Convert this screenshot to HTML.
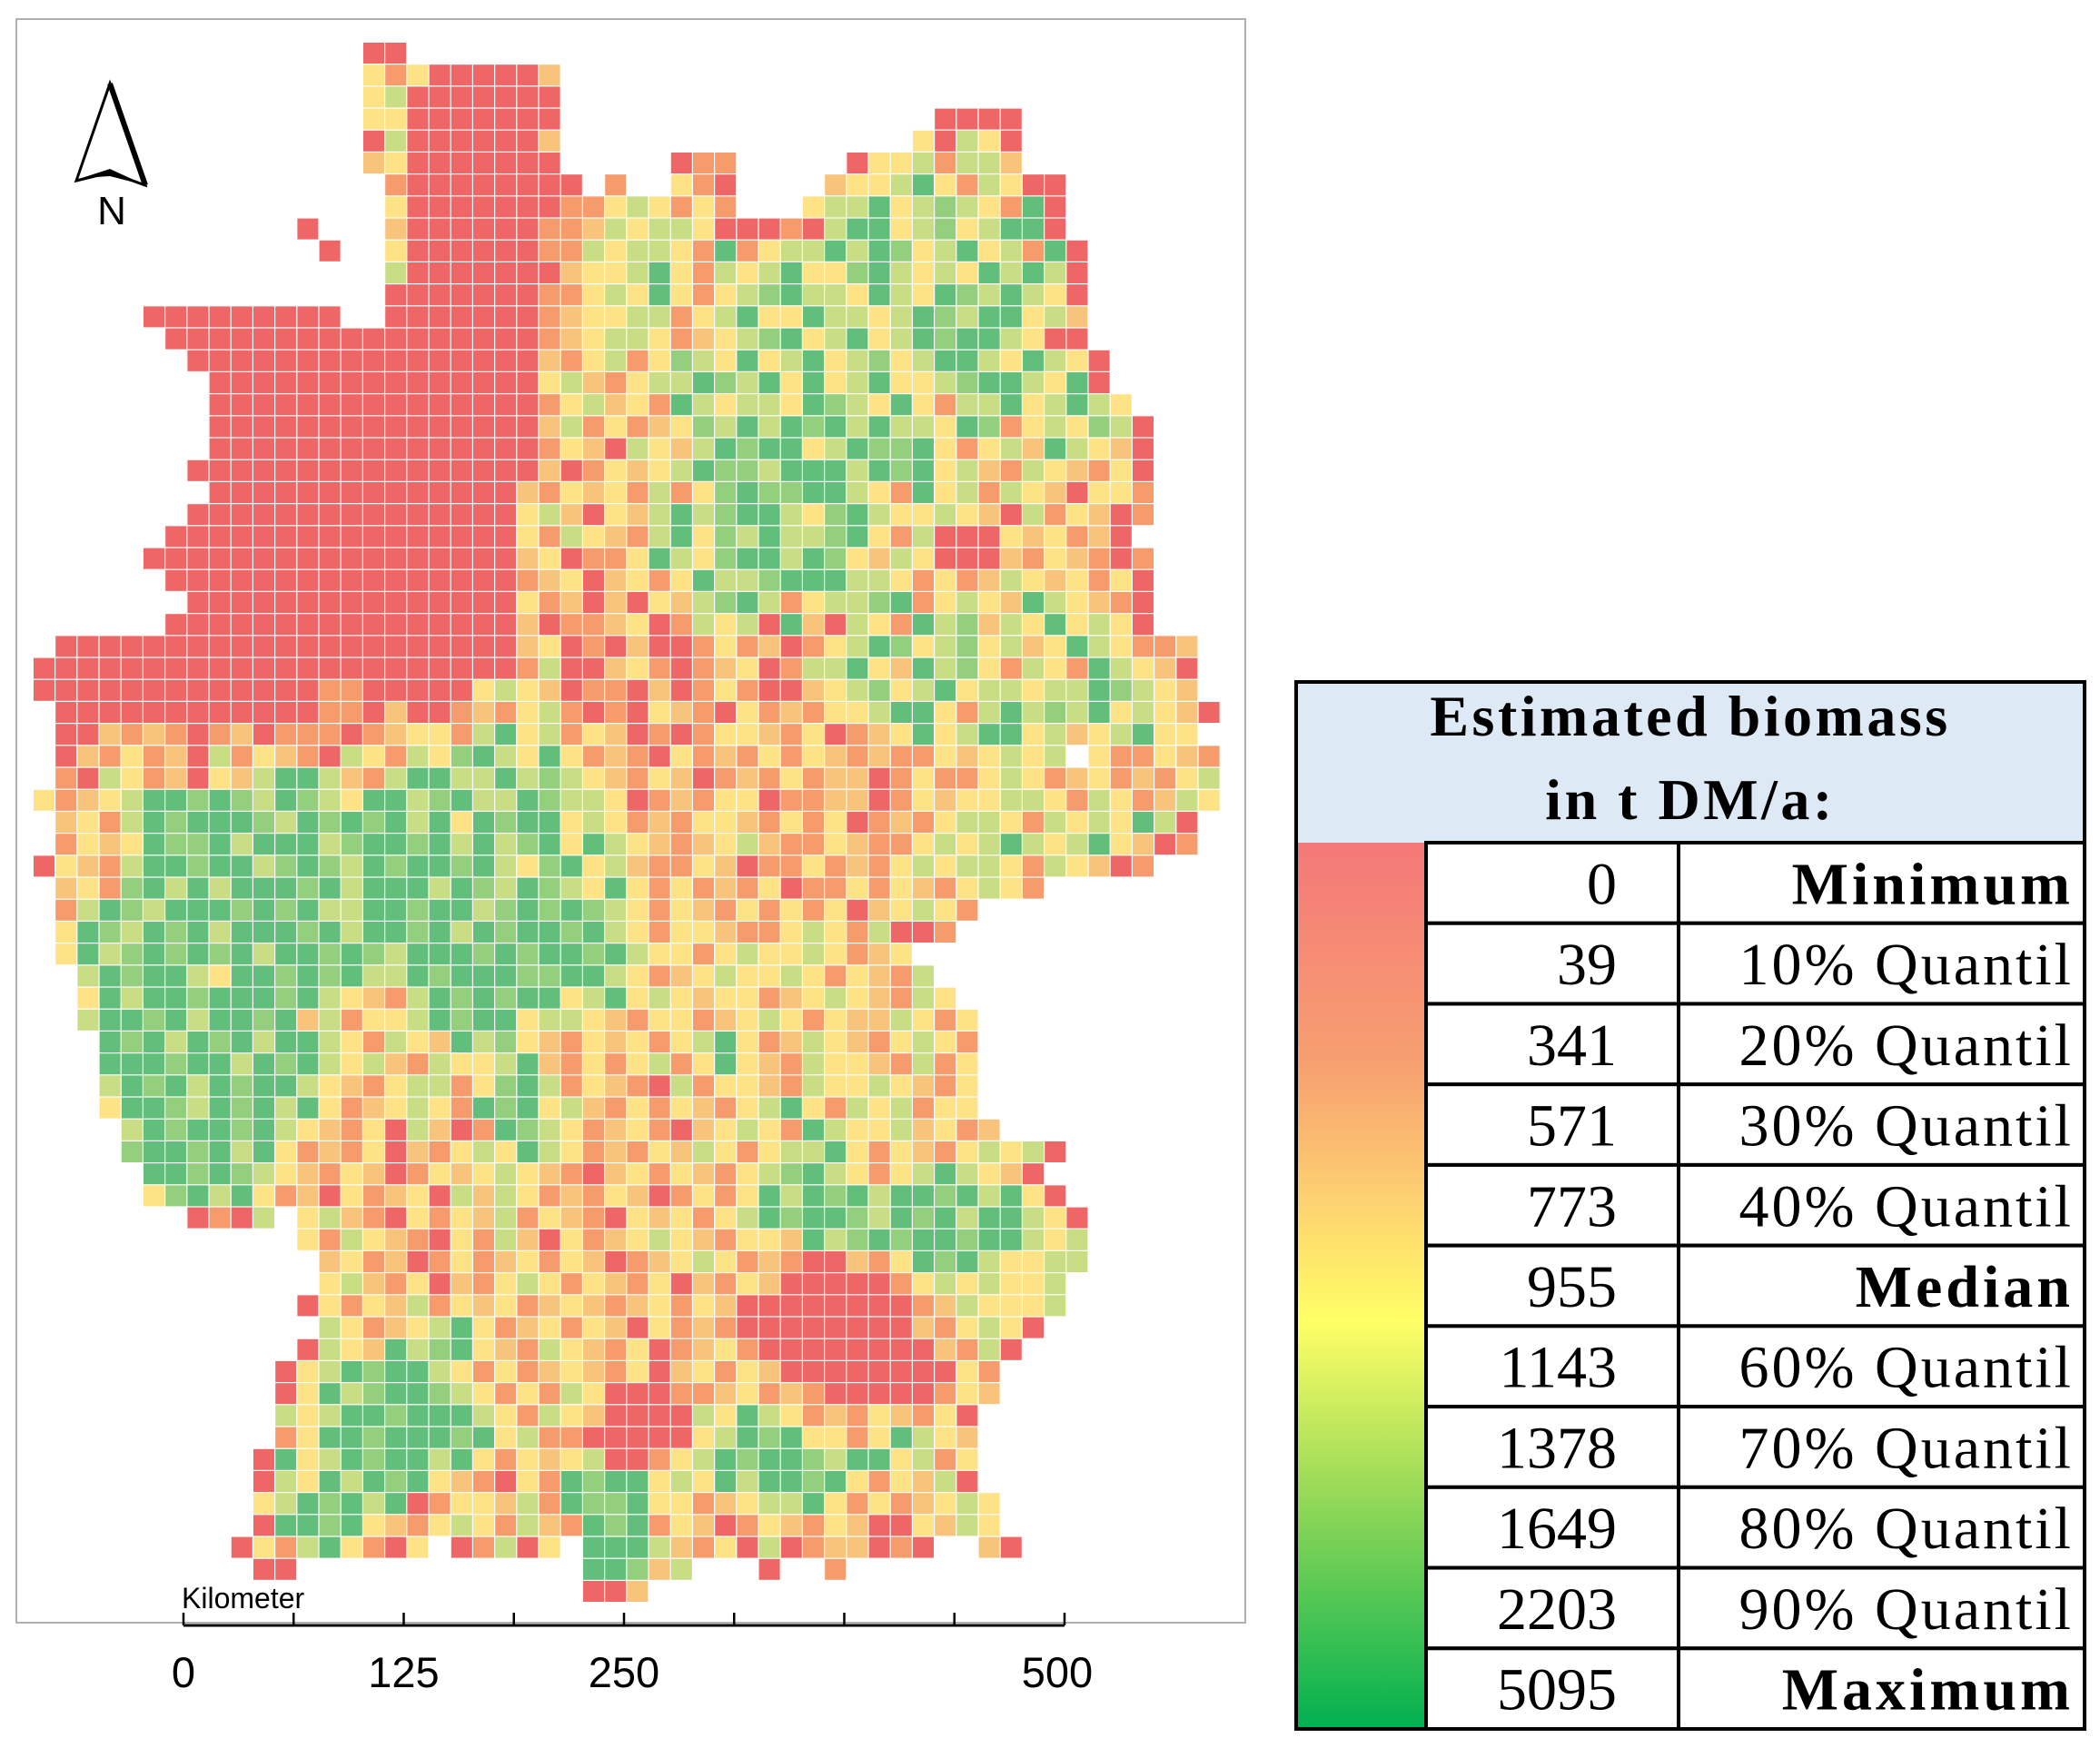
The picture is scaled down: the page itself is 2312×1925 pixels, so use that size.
<!DOCTYPE html>
<html><head><meta charset="utf-8"><style>
html,body{margin:0;padding:0;background:#fff;}
svg{display:block;}
</style></head><body>
<svg id="fig" width="2312" height="1925" viewBox="0 0 2312 1925" xmlns="http://www.w3.org/2000/svg">
<defs>
<linearGradient id="lg" x1="0" y1="0" x2="0" y2="1">
<stop offset="0" stop-color="#f47878"/><stop offset="0.25" stop-color="#f7a070"/><stop offset="0.4" stop-color="#fdd070"/><stop offset="0.54" stop-color="#ffff66"/><stop offset="0.72" stop-color="#9fdc58"/><stop offset="1" stop-color="#00b050"/>
</linearGradient>
</defs>
<rect x="18" y="21" width="1353" height="1766" fill="#fff" stroke="#b0b0b0" stroke-width="2"/>
<g id="cells"></g>
<g>
<polygon points="121,92 84,199 121,190 160,204" fill="#fff" stroke="#000" stroke-width="3"/>
<line x1="121" y1="92" x2="160" y2="204" stroke="#000" stroke-width="6"/>
<polygon points="90,196 121,186 160,204 121,194" fill="#000"/>
<text x="123" y="247" font-family="Liberation Sans, sans-serif" font-size="44" text-anchor="middle">N</text>
</g>
<g id="scalebar">
<text x="200" y="1771" font-family="Liberation Sans, sans-serif" font-size="32">Kilometer</text>
<line x1="202" y1="1790" x2="1172" y2="1790" stroke="#000" stroke-width="3"/>
</g>
<g font-family="Liberation Serif, serif">
<rect x="1427" y="751" width="868" height="177" fill="#dde9f5"/>
<text x="1861" y="810" font-size="64" font-weight="bold" text-anchor="middle" letter-spacing="3.5">Estimated biomass</text>
<text x="1861" y="902" font-size="64" font-weight="bold" text-anchor="middle" letter-spacing="3.5">in t DM/a:</text>
<rect x="1427" y="928" width="143" height="976" fill="url(#lg)"/>
<g id="legrows"></g>
<rect x="1427" y="751" width="868" height="1153" fill="none" stroke="#000" stroke-width="4"/>
</g>
</svg>
<script>
const COLORS = {r:'#ef6666',o:'#f59b6c',a:'#f8c47b',y:'#fde385',l:'#c8dd84',m:'#94cf7e',g:'#62be7b'};
const rowSegments = [
[[15,"rr"]],
[[15,"yoyrrrrra"]],
[[15,"ylrrrrrrr"]],
[[15,"yyrrrrrrr"],[41,"rrrr"]],
[[15,"rlrrrrrra"],[40,"yrlyr"]],
[[15,"ayrrrrrrr"],[29,"roo"],[37,"ryylolla"]],
[[16,"orrrrrrrr"],[26,"o"],[29,"yor"],[36,"ayylgyolyrr"]],
[[16,"yrrrrrrroo"],[26,"ylyoyo"],[35,"yllgylmlyogr"]],
[[12,"r"],[16,"arrrrrrooa"],[26,"lyllyrr"],[33,"rorlggylmylggr"]],
[[13,"r"],[16,"yrrrrrroo"],[25,"lyllyogoyllglgmylgylogr"]],
[[16,"lrrrrrrra"],[25,"yylgyolylgyymglylyglglr"]],
[[16,"rrrrrrroo"],[25,"ylygyoylmgllyglygmlgly"],[47,"r"]],
[[5,"rrrrrrrrr"],[16,"rrrrrrroay"],[26,"ylloylgyygllylgmlggyla"]],
[[6,"rrrrrrrrrrrrrrrrr"],[23,"oayllyoaylmgylgylgmgglyr"],[47,"r"]],
[[7,"rrrrrrrrrrrrrrrr"],[23,"aoyloymlygylgylmylgglygl"],[47,"yr"]],
[[8,"rrrrrrrrrrrrrrr"],[23,"ylaoyllgmlgygylgyylmggly"],[47,"gr"]],
[[8,"rrrrrrrrrrrrrrr"],[23,"oylayoglyllygmlygyollgyl"],[47,"gly"]],
[[8,"rrrrrrrrrrrrrrr"],[23,"aloyoaymlglgmglgllygmoyl"],[47,"ymlr"]],
[[8,"rrrrrrrrrrrrrrr"],[23,"oyarlyalgmggylgmmgyoylag"],[47,"lyar"]],
[[7,"rrrrrrrrrrrrrrrr"],[23,"aroyaylgmmlggglgmgylaoly"],[47,"aoyr"]],
[[8,"rrrrrrrrrrrrrr"],[22,"aoyayoloymgmmgglyogylolya"],[47,"ryyo"]],
[[7,"rrrrrrrrrrrrrrr"],[22,"ylaryalglmgglymglyylyarl"],[46,"oyaro"]],
[[6,"rrrrrrrrrrrrrrrr"],[22,"yolyaolgymlgllmgyolrrrya"],[46,"yoar"]],
[[5,"rrrrrrrrrrrrrrrrr"],[22,"ayrooyglymgglgmyalyrrrao"],[46,"yaoro"]],
[[6,"rrrrrrrrrrrrrrrr"],[22,"oayrayoygllmgggllyoyoaly"],[46,"ayoyr"]],
[[7,"rrrrrrrrrrrrrrr"],[22,"yoararyalmgloyllmgoylyag"],[46,"lyaor"]],
[[6,"rrrrrrrrrrrrrrrr"],[22,"arooayrolylrgarlyoglmaly"],[46,"gylyr"]],
[[1,"rrrrrrrrrrrrrrrrrrrrr"],[22,"ayrorarroyoaroylgmylmyl"],[45,"ayglyooa"]],
[[0,"rrrrrrrrrrrrrrrrrrrrrr"],[22,"olrrayoroayrollgyaglmyo"],[45,"lyoglyar"]],
[[0,"rrrrrrrrrrrrroorrrrryl"],[22,"yarooraroyorraylmylgyll"],[45,"yllgmlya"]],
[[1,"rrrrrrrrrrrroorarroaoy"],[23,"lororyaoryoaoyylggyolgl"],[46,"mlgylyar"]],
[[1,"rraoaoroaroooroayyolgyl"],[24,"oyaroroyyaoyroaygylggyla"],[48,"ylgyy"]],
[[1,"raoyoarloyaorlyolymgly"],[23,"gyoaoryoaoyoyaoaooyaylyl"],[48,"yooyao"]],
[[1,"orlyoaryalgglaolggllgl"],[23,"mlyaoyaroaoyoaaroyooylyo"],[47,"ayoaoyl"]],
[[0,"yoaylggmgmlgmlygglmgll"],[22,"gmllyroaoyyrooaaroyayyll"],[46,"yolyoaly"]],
[[1,"ayolgmgggmlgmgmglgygm"],[22,"ggylyoaoyyaoyoyroaoyllyol"],[47,"ylyglr"]],
[[1,"oyaygmmglggglmggmglg"],[21,"lmgyglyaoaylaooyaooylylgly"],[47,"lgyaro"]],
[[0,"ryaolggmgglmgmlgmggmgl"],[22,"ymgylaooyarooyoaoylyllyol"],[47,"yaro"]],
[[1,"ayomglglgggmglggglgm"],[21,"lgmlygyoyoaoyrooyoy"],[40,"aoylyo"]],
[[1,"olgmlgggmgmgllggmgg"],[20,"lmgmgmlyoyaoyoyoyr"],[38,"aylyo"]],
[[1,"ygmlgmglgggmglggmgl"],[20,"gmggmglyoyyaooyl"],[36,"yolrro"]],
[[1,"yglmgmgmglggmgmlggg"],[20,"mgmggmglyyoylyy"],[35,"lyoay"]],
[[2,"lgmgglyggmgmgllgmg"],[20,"ggmmgglyoaylyyly"],[36,"oyaol"]],
[[2,"yglggmgggmglyaolgm"],[20,"gmggylgylyayyoayl"],[37,"yaoly"]],
[[2,"lggmglggmgaloyylgm"],[20,"ggyllyaoyyoaylyoyaa"],[39,"lyoy"]],
[[3,"gmglgmglgglyolyag"],[20,"lmyaoyayoylgyoaly"],[37,"aoylyo"]],
[[3,"gggmgglgmglylaoly"],[20,"ylgaoyoyloygyaoly"],[37,"yaoloy"]],
[[3,"lgmglgmgglyaoyllo"],[20,"ymgloyaorloyyaoly"],[37,"ylyaoy"]],
[[3,"yggmlgmglgyoaylyo"],[20,"gmgylaoyoyaoylgyol"],[38,"yloyy"]],
[[4,"lgmggmglyaoyrlar"],[20,"ogmlyoayoraylyogly"],[38,"ylayoa"]],
[[4,"mggmglgyoaoyraoy"],[20,"lyglyoaoyalyoyllgyo"],[39,"yaoylylr"]],
[[5,"ggmgmlyaoyaroya"],[20,"ylyaorayoyaoylmgly"],[38,"oylglyar"]],
[[5,"ymglgyoaryoayrl"],[20,"alyoaoyaroyoyglgmgl"],[39,"ggmglgyr"]],
[[7,"rorl"],[12,"ylaoryoyal"],[22,"oyaoryayoylgmggmlgmglgg"],[45,"lyr"]],
[[12,"yolyaoryol"],[22,"aryoaylyaoyyaglmgmggmgg"],[45,"lyl"]],
[[13,"ayoaroyoayo"],[24,"yaroaylyoaorraoygmgly"],[45,"yll"]],
[[13,"ylaoyraoyly"],[24,"oyaoyraoyarrrrroylyly"],[45,"yl"]],
[[12,"ryoyaloyayoa"],[24,"yaoayoyarrrrrrrroaly"],[44,"yyl"]],
[[13,"lyoaylgyoay"],[24,"oyaryoaorrrrrrrraoyl"],[44,"yr"]],
[[12,"rlyaglmgyaoly"],[25,"aoyroayorrrrrrrraol"],[44,"r"]],
[[11,"rylgmgglyoyo"],[23,"ayaoyrayoyarrrrrrrryo"]],
[[11,"ryglmggmlyoy"],[23,"olyrrrooayoaorrrrroya"]],
[[11,"lylggmggglyol"],[24,"yarrrrlyglyoaoyaoyr"]],
[[11,"oyggmgggmgylo"],[24,"orrrrrylgmgyyoygly"],[42,"a"]],
[[10,"rgylgmgglgyoya"],[24,"ylrroylgmggmlggyloy"]],
[[10,"rlyglgmgyaoryo"],[24,"gmggylyglggmgyoyal"],[42,"r"]],
[[10,"ylgmglgroyyalo"],[24,"gmmgyyoayllgyoyoay"],[42,"ly"]],
[[10,"rggmgyaoylyol"],[23,"aogmgoyaroyaoyarrya"],[42,"ly"]],
[[9,"ryolgyory"],[19,"rolry"],[25,"ggglaoyrlroaaror"],[43,"ar"]],
[[10,"rr"],[25,"ggmal"],[33,"r"],[36,"o"]],
[[25,"rra"]]
];
const legendValues = ["0","39","341","571","773","955","1143","1378","1649","2203","5095"];
const legendLabels = ["Minimum","10% Quantil","20% Quantil","30% Quantil","40% Quantil","Median","60% Quantil","70% Quantil","80% Quantil","90% Quantil","Maximum"];
const scaleTicks = [0,62.5,125,187.5,250,312.5,375,437.5,500];
const scaleLabels = ["0","125","250","500"];

const NS='http://www.w3.org/2000/svg';
const X0=37, Y0=47, CS=24.2;
function colX(c){return X0+c*CS;}
function rowY(r){return Y0+r*CS;}
const cells=document.getElementById('cells');
rowSegments.forEach((segs,r)=>{
  segs.forEach(([start,str])=>{
    for(let i=0;i<str.length;i++){
      const ch=str[i]; if(!COLORS[ch]) continue;
      const rect=document.createElementNS(NS,'rect');
      rect.setAttribute('x',colX(start+i).toFixed(1));
      rect.setAttribute('y',rowY(r).toFixed(1));
      rect.setAttribute('width',(CS-1.2).toFixed(1));
      rect.setAttribute('height',(CS-1.2).toFixed(1));
      rect.setAttribute('fill',COLORS[ch]);
      
      
      cells.appendChild(rect);
    }
  });
});
const sb=document.getElementById('scalebar');
function kmX(k){return 202+k*(1172-202)/500;}
scaleTicks.forEach(k=>{
  const l=document.createElementNS(NS,'line');
  l.setAttribute('x1',kmX(k));l.setAttribute('x2',kmX(k));
  l.setAttribute('y1',1776);l.setAttribute('y2',1790);
  l.setAttribute('stroke','#000');l.setAttribute('stroke-width','2.5');
  
  
  sb.appendChild(l);
});
scaleLabels.forEach(s=>{
  const t=document.createElementNS(NS,'text');
  t.setAttribute('x',kmX(+s)-(s==="500"?8:0));t.setAttribute('y',1858);
  t.setAttribute('font-family','Liberation Sans, sans-serif');
  t.setAttribute('font-size','47');t.setAttribute('text-anchor','middle');
  t.textContent=s;
  
  
  sb.appendChild(t);
});
const lr=document.getElementById('legrows');
const RH=(1904-928)/11;
legendValues.forEach((v,i)=>{
  const y=928+i*RH;
  const box=document.createElementNS(NS,'rect');
  box.setAttribute('x',1570);box.setAttribute('y',y);box.setAttribute('width',725);box.setAttribute('height',RH);
  box.setAttribute('fill','#fff');box.setAttribute('stroke','#000');box.setAttribute('stroke-width','4');
  
  
  lr.appendChild(box);
  const sep=document.createElementNS(NS,'line');
  sep.setAttribute('x1',1848);sep.setAttribute('x2',1848);sep.setAttribute('y1',y);sep.setAttribute('y2',y+RH);
  sep.setAttribute('stroke','#000');sep.setAttribute('stroke-width','4');
  
  
  lr.appendChild(sep);
  const tv=document.createElementNS(NS,'text');
  tv.setAttribute('x',1780);tv.setAttribute('y',y+RH/2+23);
  tv.setAttribute('font-size','66');tv.setAttribute('text-anchor','end');
  tv.textContent=v;
  
  
  lr.appendChild(tv);
  const tl=document.createElementNS(NS,'text');
  const bold=(legendLabels[i].indexOf('%')<0);
  tl.setAttribute('x',2283);tl.setAttribute('y',y+RH/2+23);
  tl.setAttribute('font-size','66');tl.setAttribute('text-anchor','end');
  if(bold){tl.setAttribute('font-weight','bold');tl.setAttribute('letter-spacing','4');}
  else{tl.setAttribute('letter-spacing','3');}
  tl.textContent=legendLabels[i];
  
  
  lr.appendChild(tl);
});
</script>
</body></html>
